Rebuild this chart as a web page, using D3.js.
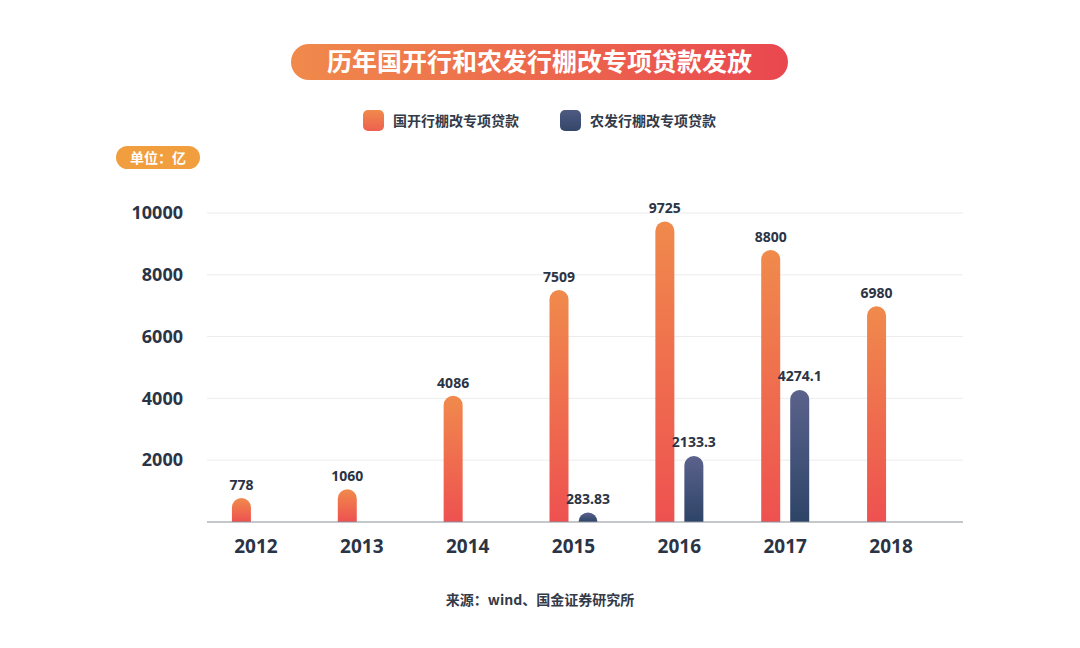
<!DOCTYPE html>
<html><head><meta charset="utf-8">
<script src="https://cdn.jsdelivr.net/npm/d3@7/dist/d3.min.js"></script>
<style>body{margin:0;background:#fff;}svg{display:block;font-family:"Noto Sans CJK SC","Noto Sans",sans-serif;}</style>
</head><body>
<svg id="c" width="1080" height="648"></svg>
<script>
const years = ["2012","2013","2014","2015","2016","2017","2018"];
const cdbValues = [778, 1060, 4086, 7509, 9725, 8800, 6980];
const cdbLabels = ["778","1060","4086","7509","9725","8800","6980"];
const adbcValues = [null, null, null, 283.83, 2133.3, 4274.1, null];
const adbcLabels = ["", "", "", "283.83", "2133.3", "4274.1", ""];
const yTicks = [2000, 4000, 6000, 8000, 10000];
const seriesNames = ["国开行棚改专项贷款", "农发行棚改专项贷款"];
const titleText = "历年国开行和农发行棚改专项贷款发放";
const unitText = "单位：亿";
const sourceText = "来源：wind、国金证券研究所";

const svg = d3.select("#c");
const defs = svg.append("defs");
function grad(id, c1, c2, vertical){
  const g = defs.append("linearGradient").attr("id", id)
    .attr("x1",0).attr("y1",0).attr("x2", vertical?0:1).attr("y2", vertical?1:0);
  g.append("stop").attr("offset","0%").attr("stop-color",c1);
  g.append("stop").attr("offset","100%").attr("stop-color",c2);
}
grad("gOrange","#F08A4C","#EE5150",true);
grad("gBlue","#5B628C","#2D4467",true);
grad("gTitle","#F08A4B","#E9474F",false);
grad("gLegO","#F08A4C","#EE6050",true);
grad("gLegB","#4E5A82","#34466A",true);

// Title pill
svg.append("rect").attr("x",291).attr("y",44).attr("width",497).attr("height",36)
  .attr("rx",18).attr("fill","url(#gTitle)");
svg.append("text").attr("x",539.5).attr("y",62).attr("dy","0.36em")
  .attr("text-anchor","middle").attr("fill","#fff").attr("font-size",25).attr("font-weight",600)
  .text(titleText);

// Legend
const legend = [{x:363, fill:"url(#gLegO)"},{x:560, fill:"url(#gLegB)"}];
legend.forEach((l,i)=>{
  svg.append("rect").attr("x",l.x).attr("y",110).attr("width",21).attr("height",21).attr("rx",5).attr("fill",l.fill);
  svg.append("text").attr("x",l.x+30).attr("y",120.5).attr("dy","0.36em")
    .attr("font-size",14).attr("font-weight","bold").attr("fill","#333a48").text(seriesNames[i]);
});

// Unit pill
svg.append("rect").attr("x",116).attr("y",146).attr("width",84).attr("height",23).attr("rx",11.5).attr("fill","#F09E3E");
svg.append("text").attr("x",158).attr("y",157.5).attr("dy","0.36em").attr("text-anchor","middle")
  .attr("font-size",14).attr("font-weight","bold").attr("fill","#fff").text(unitText);

// Scales
const x = d3.scaleBand().domain(years).range([203, 944]).paddingInner(0).paddingOuter(0);
const y = d3.scaleLinear().domain([0, 10000]).range([522, 213]);

// Grid
svg.append("g").selectAll("line").data(yTicks).join("line")
  .attr("x1",207).attr("x2",963).attr("y1",d=>y(d)).attr("y2",d=>y(d))
  .attr("stroke","#ececec").attr("stroke-width",1);

// Y axis labels
const yAxis = d3.axisLeft(y).tickValues(yTicks).tickSize(0).tickPadding(0).tickFormat(d3.format("d"));
const gy = svg.append("g").attr("transform","translate(183,0)").call(yAxis);
gy.select(".domain").remove();
gy.selectAll("text").attr("font-size",18).attr("font-weight","bold").attr("fill","#2b3445")
  .attr("font-family","'Noto Sans',sans-serif");

// Bars
const bw = 19;
function barPath(cx, v){
  const x0 = cx - bw/2, x1 = cx + bw/2, r = bw/2;
  const top = y(v), bot = y(0);
  const h = bot - top;
  if (h < r) {
    return `M${x0},${bot} A${r},${r} 0 0 1 ${x1},${bot} Z`;
  }
  return `M${x0},${bot} L${x0},${top+r} A${r},${r} 0 0 1 ${x1},${top+r} L${x1},${bot} Z`;
}
const offO = -14.5, offB = 14.5;
const cx = d => x(d) + x.bandwidth()/2;

svg.append("g").selectAll("path").data(years.map((yr,i)=>({yr,v:cdbValues[i],l:cdbLabels[i]}))).join("path")
  .attr("d",d=>barPath(cx(d.yr)+offO, d.v)).attr("fill","url(#gOrange)");
svg.append("g").selectAll("path").data(years.map((yr,i)=>({yr,v:adbcValues[i],l:adbcLabels[i]})).filter(d=>d.v!=null)).join("path")
  .attr("d",d=>barPath(cx(d.yr)+offB, d.v)).attr("fill","url(#gBlue)");

// Baseline
svg.append("line").attr("x1",207).attr("x2",963).attr("y1",y(0)).attr("y2",y(0)).attr("stroke","#8a8f99").attr("stroke-width",1.2);

// Value labels
svg.append("g").selectAll("text").data(years.map((yr,i)=>({yr,v:cdbValues[i],l:cdbLabels[i]}))).join("text")
  .attr("x",d=>cx(d.yr)+offO).attr("y",d=>y(d.v)-8).attr("text-anchor","middle")
  .attr("font-size",14).attr("font-weight","bold").attr("fill","#2b3445").attr("font-family","'Noto Sans',sans-serif").text(d=>d.l);
svg.append("g").selectAll("text").data(years.map((yr,i)=>({yr,v:adbcValues[i],l:adbcLabels[i]})).filter(d=>d.v!=null)).join("text")
  .attr("x",d=>cx(d.yr)+offB).attr("y",d=>y(d.v)-9).attr("text-anchor","middle")
  .attr("font-size",14).attr("font-weight","bold").attr("fill","#2b3445").attr("font-family","'Noto Sans',sans-serif").text(d=>d.l);

// X axis labels
const xAxis = d3.axisBottom(x).tickSize(0).tickPadding(0);
const gx = svg.append("g").attr("transform","translate(0,539)").call(xAxis);
gx.select(".domain").remove();
gx.selectAll("text").attr("font-size",19).attr("font-weight","bold").attr("fill","#2b3445")
  .attr("font-family","'Noto Sans',sans-serif");

// Source
svg.append("text").attr("x",540).attr("y",600).attr("dy","0.36em").attr("text-anchor","middle")
  .attr("font-size",14).attr("font-weight","bold").attr("fill","#333a48").text(sourceText);
</script>
</body></html>
